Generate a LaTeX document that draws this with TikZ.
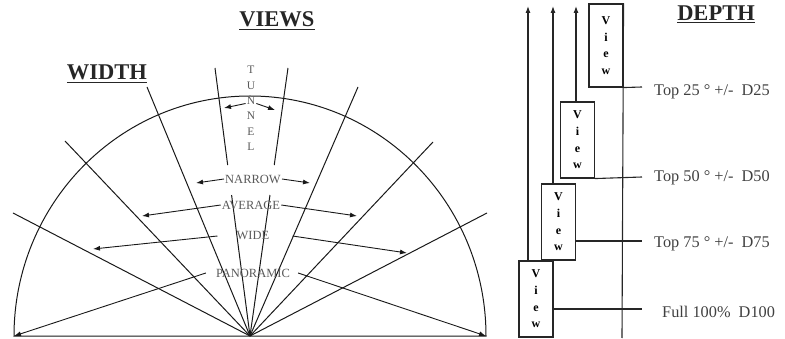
\documentclass[tikz,border=0pt]{standalone}
\usepackage{fontspec}
\setmainfont{Liberation Serif}
\usetikzlibrary{arrows.meta,calc}

\begin{document}
\begin{tikzpicture}[
    x=1pt, y=-1pt,
    ray/.style={
        line width=1pt,
        black!90
    },
    arrow/.style={
        -{Latex[length=7pt,width=5pt]},
        line width=0.9pt,
        black!90
    },
    heading/.style={
        anchor=base,
        font=\fontsize{22.5}{24}\selectfont\bfseries,
        text=black!85,
        inner sep=0pt
    },
    widthtext/.style={
        font=\fontsize{12.5}{14}\selectfont,
        text=black!65,
        inner sep=1pt
    },
    viewbox/.style={
        rectangle,
        draw=black!85,
        line width=1.1pt,
        minimum width=34pt,
        minimum height=76pt,
        align=center,
        inner sep=0pt,
        font=\fontsize{12}{16.7}\selectfont\bfseries
    },
    depthtext/.style={
        anchor=west,
        font=\fontsize{16.3}{18}\selectfont,
        text=black!75,
        inner sep=0pt
    },
    link/.style={
        line width=1.1pt,
        black!85
    }
]
\useasboundingbox (0,0) rectangle (785,339);

% Titles
\node[heading] (views) at (277,27) {\underline{VIEWS}};
\node[heading] (width) at (107,80) {\underline{WIDTH}};
\node[heading] (depth) at (716,21) {\underline{DEPTH}};

% Half circle of the width views
\coordinate (c) at (250,336);
\coordinate (bl) at (14,336);
\coordinate (br) at (486,336);
\draw[ray] (bl) arc[start angle=180, end angle=0, x radius=236pt, y radius=240pt] -- cycle;

% Rays out of the eye point
\draw[ray] (c) -- (13,213);
\draw[ray] (c) -- (65,141);
\draw[ray] (c) -- (147,87);
\draw[ray] (c) -- (358,87);
\draw[ray] (c) -- (433,142);
\draw[ray] (c) -- (487,213);

% Tunnel rays, broken round NARROW
\coordinate (tl) at (215,68);
\coordinate (tr) at (288,68);
\draw[ray] (tl) -- ($(c)!0.638!(tl)$);
\draw[ray] ($(c)!0.526!(tl)$) -- (c);
\draw[ray] (tr) -- ($(c)!0.638!(tr)$);
\draw[ray] ($(c)!0.526!(tr)$) -- (c);

% Width labels
\node[widthtext, align=center, font=\fontsize{11.5}{15.4}\selectfont] (tun) at (251,108.5) {T\\U\\N\\N\\E\\L};
\node[widthtext] (nar) at (253,179) {NARROW};
\node[widthtext] (avg) at (251,205) {AVERAGE};
\node[widthtext] (wide) at (253,236) {WIDE};
\node[widthtext] (pan) at (253,273) {PANORAMIC};

% Arrow tips
\coordinate (tun-l) at (224,108);
\coordinate (tun-r) at (275,110);
\coordinate (nar-l) at (196,183);
\coordinate (nar-r) at (310,183);
\coordinate (avg-l) at (142,216);
\coordinate (avg-r) at (357,216);
\coordinate (wide-l) at (93,249);
\coordinate (wide-r) at (407,253);

% Arrows from the labels
\draw[arrow] ([yshift=5pt]tun.west) -- (tun-l);
\draw[arrow] ([yshift=5pt]tun.east) -- (tun-r);
\draw[arrow] (nar.west) -- (nar-l);
\draw[arrow] (nar.east) -- (nar-r);
\draw[arrow] (avg.west) -- (avg-l);
\draw[arrow] (avg.east) -- (avg-r);
\draw[arrow] ([xshift=-18pt]wide.west) -- (wide-l);
\draw[arrow] ([xshift=22pt]wide.east) -- (wide-r);
\draw[arrow] ([xshift=-9pt]pan.west) -- (bl);
\draw[arrow] ([xshift=7pt]pan.east) -- (br);

% View boxes
\node[viewbox, minimum height=83pt] (v1) at (606,45.5) {V\\i\\e\\w};
\node[viewbox] (v2) at (577.5,140) {V\\i\\e\\w};
\node[viewbox] (v3) at (558.5,222) {V\\i\\e\\w};
\node[viewbox] (v4) at (536,299) {V\\i\\e\\w};

% Upward arrows
\coordinate (t1) at (528,6);
\coordinate (t2) at (553,6);
\coordinate (t3) at (576,6);
\draw[link, -{Latex[length=7pt,width=5pt]}] (t1 |- v4.north) -- (t1);
\draw[link, -{Latex[length=7pt,width=5pt]}] (t2 |- v3.north) -- (t2);
\draw[link, -{Latex[length=7pt,width=5pt]}] (t3 |- v2.north) -- (t3);

% Long line
\coordinate (bot) at (622,338);
\draw[link] (v1.north east) -- (bot);

% Depth levels
\coordinate (e1) at (642,87);
\coordinate (e2) at (642,177);
\coordinate (e3) at (642,241);
\coordinate (e4) at (642,309);
\draw[link] (v1.south east) -- (e1);
\draw[link] (v2.south east) -- (e2);
\draw[link] (v3.east |- e3) -- (e3);
\draw[link] (v4.east |- e4) -- (e4);

\node[depthtext] (d25) at (654,92) {Top 25 ° +/-\ \ D25};
\node[depthtext] (d50) at (654,178) {Top 50 ° +/-\ \ D50};
\node[depthtext] (d75) at (654,244) {Top 75 ° +/-\ \ D75};
\node[depthtext] (d100) at (662,312) {Full 100\%\ \ D100};

\end{tikzpicture}
\end{document}
